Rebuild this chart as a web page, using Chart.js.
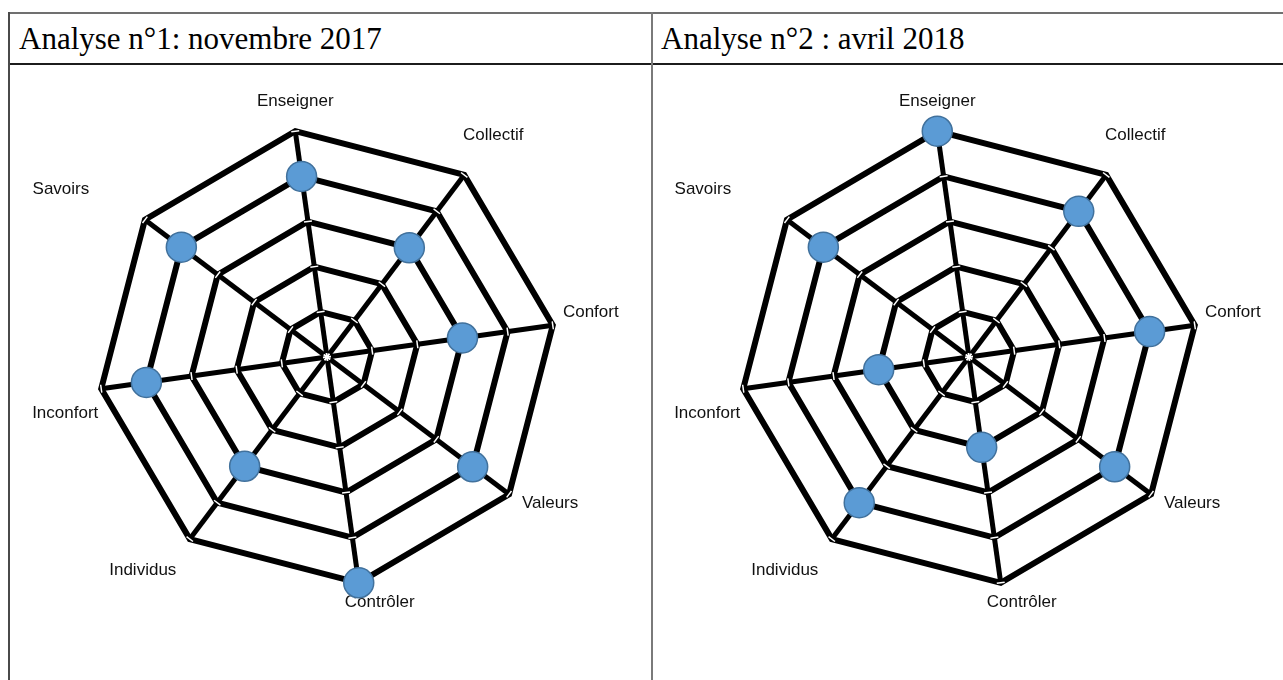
<!DOCTYPE html>
<html>
<head>
<meta charset="utf-8">
<script src="https://cdn.jsdelivr.net/npm/chart.js@4.4.1/dist/chart.umd.min.js"></script>
<style>
  html, body { margin: 0; padding: 0; background: #fff; }
  body { width: 1283px; height: 680px; position: relative; overflow: hidden; }
  .rule { position: absolute; }
  .title { position: absolute; top: 23px; font: 31px/31px "Liberation Serif", "Times New Roman", serif; color: #000; white-space: nowrap; }
  .chartBox { position: absolute; top: 57px; width: 640px; height: 600px; }
</style>
</head>
<body>
<div class="rule" style="left:8px; top:12px; width:1275px; height:2px; background:#707070"></div>
<div class="rule" style="left:8px; top:63px; width:1275px; height:2px; background:#1c1c1c"></div>
<div class="rule" style="left:8px; top:12px; width:2px; height:668px; background:#4a4a4a"></div>
<div class="rule" style="left:651px; top:12px; width:2px; height:668px; background:#7a7a7a"></div>

<div class="title" style="left:19px">Analyse n°1: novembre 2017</div>
<div class="title" style="left:661px">Analyse n°2 : avril 2018</div>

<div class="chartBox" style="left:7px"><canvas id="chart1"></canvas></div>
<div class="chartBox" style="left:649px"><canvas id="chart2"></canvas></div>

<script>
const axes = ['Enseigner', 'Collectif', 'Confort', 'Valeurs', 'Contrôler', 'Individus', 'Inconfort', 'Savoirs'];
const novembre2017 = [4, 3, 3, 4, 5, 3, 4, 4];
const avril2018 = [5, 4, 4, 4, 2, 4, 2, 4];
const scaleMin = 0;
const scaleMax = 5;

// label placement relative to the outer vertex of each axis (px)
const labelShift = [[0, -30], [29, -40], [38, -13], [41, 9], [21, 20], [-47, 31], [-36, 25], [-84, -30]];

// small white tick marks where the axes cross the rings, then the axis names
const axisDecor = {
    id: 'axisDecor',
    beforeDatasetsDraw(chart) {
        const scale = chart.scales.r;
        const ctx = chart.ctx;
        const n = chart.data.labels.length;
        ctx.save();
        ctx.strokeStyle = '#fff';
        ctx.lineWidth = 1.5;
        for (let i = 0; i < n; i++) {
            const a = scale.getIndexAngle(i) - Math.PI / 2;
            const nx = -Math.sin(a), ny = Math.cos(a);
            scale.ticks.forEach(t => {
                const p = scale.getPointPositionForValue(i, t.value);
                ctx.beginPath();
                ctx.moveTo(p.x - nx * 4, p.y - ny * 4);
                ctx.lineTo(p.x + nx * 4, p.y + ny * 4);
                ctx.stroke();
            });
        }
        ctx.font = '17px "Liberation Sans", Arial, sans-serif';
        ctx.fillStyle = '#111';
        ctx.textAlign = 'center';
        ctx.textBaseline = 'middle';
        chart.data.labels.forEach((label, i) => {
            const p = scale.getPointPosition(i, scale.drawingArea);
            ctx.fillText(label, p.x + labelShift[i][0], p.y + labelShift[i][1]);
        });
        ctx.restore();
    }
};

function makeRadar(id, values) {
    const ctx = document.getElementById(id).getContext('2d');
    new Chart(ctx, {
        type: 'radar',
        data: {
            labels: axes,
            datasets: [{
                data: values,
                showLine: false,
                fill: false,
                clip: false,
                pointRadius: 15,
                pointHoverRadius: 15,
                pointBackgroundColor: '#5b9bd5',
                pointBorderColor: '#41719c',
                pointBorderWidth: 1.5
            }]
        },
        options: {
            responsive: true,
            maintainAspectRatio: false,
            animation: false,
            layout: { padding: { left: 92, right: 92, top: 72, bottom: 72 } },
            plugins: { legend: { display: false }, tooltip: { enabled: false } },
            scales: {
                r: {
                    min: scaleMin,
                    max: scaleMax,
                    startAngle: -8,
                    ticks: { display: false, stepSize: 1 },
                    grid: { color: '#000', lineWidth: 6 },
                    angleLines: { color: '#000', lineWidth: 5 },
                    pointLabels: { display: false }
                }
            }
        },
        plugins: [axisDecor]
    });
}

makeRadar('chart1', novembre2017);
makeRadar('chart2', avril2018);
</script>
</body>
</html>
